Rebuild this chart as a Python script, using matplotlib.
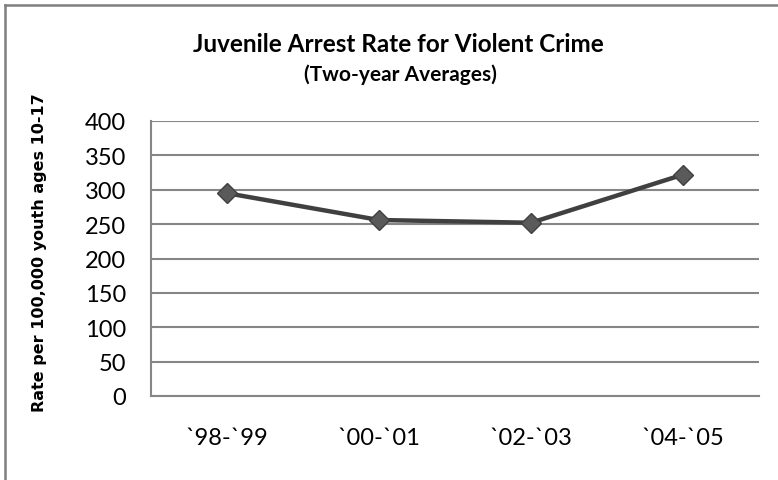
import matplotlib
matplotlib.use("Agg")
import matplotlib.pyplot as plt
from matplotlib.lines import Line2D

periods = ["`98-`99", "`00-`01", "`02-`03", "`04-`05"]
rates = [295, 256, 252, 322]
y_ticks = [0, 50, 100, 150, 200, 250, 300, 350, 400]

plt.rcParams["font.family"] = ["Lato", "DejaVu Sans"]

W, H = 778, 481
fig = plt.figure(figsize=(W / 100, H / 100), dpi=100)
fig.patch.set_facecolor("white")

ax = fig.add_axes([151 / W, (H - 397) / H, (759 - 151) / W, (397 - 122) / H])

x = list(range(len(periods)))
ax.plot(x, rates, color="#404040", linewidth=3.2, marker="D", markersize=10.5,
        markerfacecolor="#5a5a5a", markeredgecolor="#404040", markeredgewidth=1.0,
        zorder=3, solid_joinstyle="round")

ax.set_xlim(-0.5, len(periods) - 0.5)
ax.set_ylim(0, 400)
ax.set_yticks(y_ticks)
ax.set_xticks(x)
ax.set_xticklabels(periods)
ax.yaxis.grid(True, color="#868686", linewidth=1.5)
ax.set_axisbelow(True)
for s in ("top", "right"):
    ax.spines[s].set_visible(False)
for s in ("left", "bottom"):
    ax.spines[s].set_color("#868686")
    ax.spines[s].set_linewidth(1.5)
ax.tick_params(axis="both", length=0, labelsize=17, colors="black")
ax.tick_params(axis="y", pad=18)
ax.tick_params(axis="x", pad=22)

fig.text(398 / W, 1 - 44 / H, "Juvenile Arrest Rate for Violent Crime",
         ha="center", va="center", fontsize=17.5, fontweight="bold")
fig.text(400 / W, 1 - 75 / H, "(Two-year Averages)",
         ha="center", va="center", fontsize=15, fontweight="bold")
fig.text(40 / W, 1 - 253 / H, "Rate per 100,000 youth ages 10-17",
         ha="center", va="center", rotation=90, fontsize=11.5, fontweight="bold",
         family="DejaVu Sans")

# chart frame (top and left edges)
fig.add_artist(Line2D([5 / W, 1.0], [1 - 6 / H, 1 - 6 / H], color="#7f7f7f",
                      linewidth=1.8, transform=fig.transFigure))
fig.add_artist(Line2D([5 / W, 5 / W], [0.0, 1 - 6 / H], color="#7f7f7f",
                      linewidth=1.8, transform=fig.transFigure))

fig.savefig("out.png", dpi=100)
